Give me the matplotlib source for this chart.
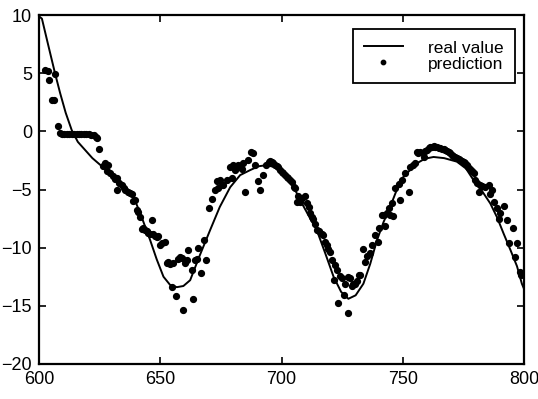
import matplotlib
matplotlib.use("Agg")
import matplotlib.pyplot as plt

plt.rcParams["font.family"] = ["Liberation Sans", "DejaVu Sans"]

# real value curve
real_x = [600, 601.2, 603.6, 606.6, 608.7, 611, 613.5, 616, 619, 622, 625.9, 630, 635,
          638.9, 642, 645.8, 648.5, 651.3, 654, 656.8, 659.5, 662.3, 666, 670.5, 674.5,
          678.8, 682.9, 687, 690.5, 693.9, 697.5, 702.1, 705, 707.6, 711, 714.5, 718,
          721.4, 724.5, 727.5, 730.5, 733.7, 736.5, 739.3, 742, 744.7, 747.5, 750.2,
          755.7, 759, 762.6, 767, 772.2, 776, 779.1, 782.5, 786, 788.8, 791.5, 794.3,
          797, 799, 800]
real_y = [9.9, 9.7, 7.6, 5.0, 3.3, 1.6, 0.1, -0.9, -1.6, -2.3, -3.0, -3.7, -4.6,
          -5.6, -7.2, -9.35, -11.0, -12.5, -13.2, -13.4, -13.3, -12.8, -10.8, -8.5, -6.5,
          -4.8, -3.76, -3.33, -3.0, -2.9, -3.1, -3.9, -4.8, -5.9, -7.2, -8.5, -10.5,
          -12.5, -13.8, -14.4, -14.1, -13.1, -11.4, -9.35, -7.8, -6.5, -5.0, -3.9,
          -2.75, -2.35, -2.2, -2.3, -2.6, -3.2, -4.2, -5.1, -6.2, -7.4, -8.8, -10.2,
          -11.6, -13.1, -13.6]

# prediction points
pred_x = [602.5, 603.6, 604.1, 605.2, 606.0, 606.4, 607.8, 608.7, 609.5, 610.5, 611.5,
          612.5, 613.5, 614.5, 615.5, 616.5, 617.5, 618.5, 619.5, 620.5, 621.5, 622.5,
          623.3, 624.0, 624.6, 626.5, 627.2, 627.9, 628.6, 629.3, 630.6, 631.3, 632.0,
          632.3, 633.0, 634.1, 635.0, 635.5, 636.5, 637.5, 638.2, 638.9, 639.6, 640.3,
          641.0, 641.6, 642.3, 643.0, 643.7, 644.4, 645.1, 645.8, 646.5, 647.1, 647.8,
          648.5, 649.2, 649.9, 650.6, 652.0, 652.7, 653.3, 654.0, 654.7, 655.4, 656.5,
          657.4, 658.1, 658.8, 659.5, 660.2, 660.9, 661.6, 663.0, 663.6, 664.3, 665.0,
          665.7, 666.7, 667.8, 668.9, 670.2, 671.2, 672.5, 673.3, 673.9, 674.6, 675.3,
          676.0, 677.4, 678.8, 679.5, 680.1, 680.8, 681.5, 682.2, 682.9, 683.6, 684.2,
          685.0, 686.3, 687.4, 688.0, 689.1, 690.4, 690.9, 692.2, 693.5, 694.6, 695.3,
          696.0, 696.6, 697.3, 698.0, 698.7, 699.4, 700.0, 700.7, 701.4, 702.1, 702.8,
          703.5, 704.2, 704.9, 705.6, 706.3, 706.9, 707.6, 708.3, 709.7, 710.4, 711.1,
          711.8, 712.5, 713.1, 713.8, 714.5, 715.2, 716.5, 717.2, 718.0, 718.6, 719.3,
          720.0, 720.7, 721.4, 722.1, 722.8, 723.4, 724.1, 724.8, 725.5, 726.2, 727.3,
          727.5, 728.2, 729.0, 729.6, 730.3, 731.0, 731.7, 732.4, 733.7, 734.4, 735.1,
          736.5, 737.2, 738.6, 739.9, 740.3, 741.3, 742.0, 742.7, 743.4, 744.1, 744.7,
          745.4, 746.1, 746.8, 748.2, 748.9, 749.6, 751.0, 752.3, 753.0, 754.0, 755.0,
          755.7, 756.4, 757.1, 758.5, 759.2, 759.9, 760.6, 761.3, 762.0, 762.6, 763.3,
          764.0, 764.7, 765.4, 766.1, 766.8, 767.4, 768.1, 768.8, 769.5, 770.2, 770.8,
          771.5, 772.2, 772.9, 773.6, 774.3, 775.0, 775.7, 776.4, 777.0, 777.7, 778.4,
          779.1, 779.8, 780.5, 781.2, 781.9, 782.6, 783.9, 785.3, 786.0, 786.7, 787.4,
          788.7, 789.6, 790.1, 791.5, 792.8, 793.9, 795.5, 796.3, 797.1, 798.1, 798.7]
pred_y = [5.3, 5.2, 4.4, 2.7, 2.7, 4.9, 0.45, -0.15, -0.2, -0.25, -0.25,
          -0.25, -0.2, -0.2, -0.2, -0.25, -0.2, -0.2, -0.25, -0.25, -0.3, -0.35,
          -0.45, -0.6, -1.5, -3.0, -2.75, -3.4, -2.9, -3.6, -3.8, -4.1, -4.0,
          -5.05, -4.4, -4.6, -4.9, -5.05, -5.2, -5.3, -5.4, -6.0, -5.9, -6.8,
          -6.9, -7.4, -8.4, -8.3, -8.5, -8.6, -8.7, -8.8, -7.6, -8.8, -9.0,
          -9.1, -9.0, -9.8, -9.6, -9.5, -11.35, -11.2, -11.4, -13.4, -11.3, -14.2,
          -11.0, -10.8, -10.9, -15.4, -11.3, -11.1, -10.2, -11.9, -14.45, -11.1, -11.0,
          -10.05, -12.15, -9.3, -11.1, -6.6, -5.8, -5.0, -4.3, -4.9, -4.2, -4.6,
          -4.6, -4.2, -3.05, -4.05, -2.9, -3.3, -3.1, -2.9, -3.05, -3.2, -2.75,
          -5.2, -2.5, -1.75, -1.9, -2.85, -4.3, -5.05, -3.75, -2.9, -2.6, -2.55,
          -2.6, -2.7, -2.85, -2.95, -3.1, -3.3, -3.45, -3.6, -3.75, -3.9, -4.05,
          -4.2, -4.35, -4.75, -4.9, -6.05, -5.6, -6.05, -5.7, -5.6, -6.2, -6.5,
          -7.0, -7.35, -7.5, -8.0, -8.5, -8.6, -8.8, -8.9, -9.5, -9.8, -10.1,
          -10.35, -11.1, -12.8, -11.5, -11.9, -14.8, -12.4, -12.65, -14.1, -13.1, -15.65,
          -12.5, -12.65, -13.3, -13.1, -13.1, -12.9, -12.35, -12.35, -10.1, -11.2, -10.7,
          -10.5, -9.8, -8.9, -9.5, -8.35, -7.2, -7.2, -8.1, -7.0, -6.6, -7.2,
          -6.2, -7.3, -4.9, -4.5, -5.9, -4.2, -3.6, -5.2, -3.05, -2.9, -2.75,
          -1.75, -1.9, -1.75, -2.2, -1.7, -1.6, -1.45, -1.35, -1.3, -1.25, -1.3,
          -1.35, -1.4, -1.45, -1.5, -1.55, -1.6, -1.7, -1.8, -1.9, -2.0, -2.1,
          -2.2, -2.3, -2.4, -2.45, -2.55, -2.65, -2.75, -2.9, -3.05, -3.2, -3.4,
          -3.6, -4.2, -4.4, -5.2, -4.6, -4.7, -4.75, -4.6, -5.4, -5.05, -6.05,
          -6.6, -7.5, -7.05, -6.45, -7.6, -9.6, -8.35, -10.8, -9.6, -12.1, -12.35]

x_ticks = [600, 650, 700, 750, 800]
y_ticks = [-20, -15, -10, -5, 0, 5, 10]

fig = plt.figure(figsize=(5.38, 3.99), dpi=100)
ax = fig.add_axes([0.0725, 0.088, 0.902, 0.874])

ax.plot(real_x, real_y, color="black", linewidth=1.4, label="real value")
ax.plot(pred_x, pred_y, linestyle="none", marker="o", markersize=4.2,
        color="black", label="prediction")

ax.set_xlim(600, 800)
ax.set_ylim(-20, 10)
ax.set_xticks(x_ticks)
ax.set_yticks(y_ticks)
ax.tick_params(direction="in", length=5, width=1.2, top=True, right=True,
               labelsize=13, pad=5)
for s in ax.spines.values():
    s.set_linewidth(1.6)

# legend box roughly 353-515 px wide, 29-85 px tall in the reference
leg = ax.legend(loc="upper right", bbox_to_anchor=(0.981, 0.96), borderaxespad=0,
                fancybox=False, edgecolor="black", framealpha=1, fontsize=12.5,
                labelspacing=0.05, handlelength=2.25, handletextpad=1.45,
                borderpad=0.65, markerscale=0.75)
leg.get_frame().set_linewidth(1.3)

fig.savefig("out.png", dpi=100)
